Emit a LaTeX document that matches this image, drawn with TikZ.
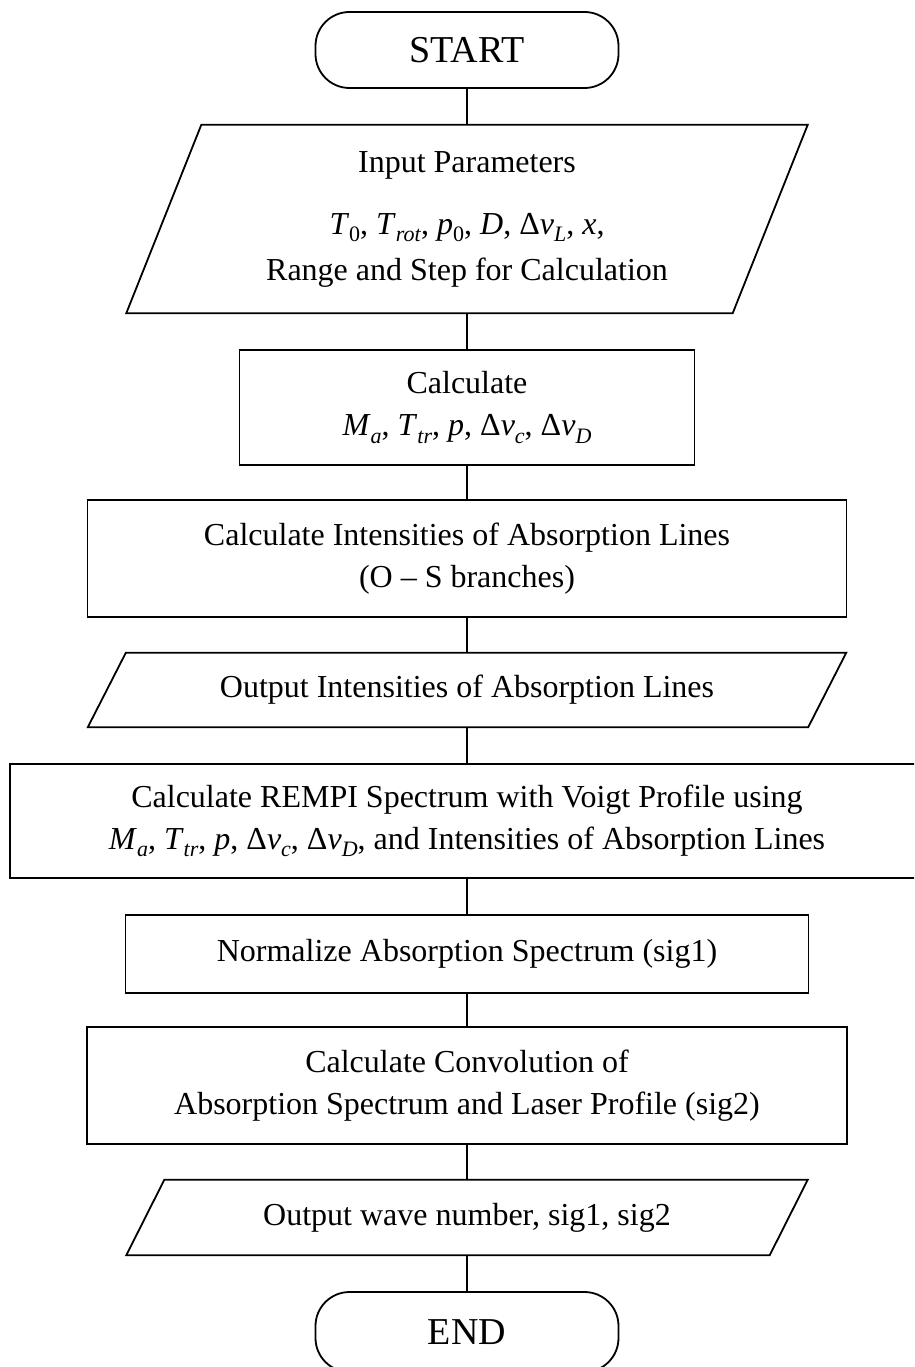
\documentclass[tikz,border=0pt]{standalone}
\usepackage{fontspec}
\setmainfont{Liberation Serif}
\newcommand\sbx[1]{\raisebox{-0.22em}{\fontsize{22}{24}\selectfont #1}}
\newcommand\vi[1]{\textit{#1}}
\begin{document}
\begin{tikzpicture}[x=1pt,y=-1pt,
  txt/.style={font=\fontsize{32}{42}\selectfont, align=center, inner sep=0pt},
  termbox/.style={draw, line width=1.8pt, rounded corners=34pt,
    font=\fontsize{38}{40}\selectfont, minimum width=303pt, minimum height=76pt, inner sep=0pt},
  procbox/.style={txt, draw, line width=1.8pt},
  iobox/.style={txt},
  iopath/.style={line width=1.8pt, line join=miter},
  link/.style={line width=1.6pt}]
\useasboundingbox (0,0) rectangle (914,1367);
\clip (0,0) rectangle (914,1367);

% nodes
\node[termbox] (start) at (467,50) {START};

\node[iobox, minimum width=606pt, minimum height=188pt] (inp) at (467,219)
  {Input Parameters\\[20pt]
   \vi{T}\sbx{0}, \vi{T}\sbx{\vi{rot}}, \vi{p}\sbx{0}, \vi{D}, Δ\vi{ν}\sbx{\vi{L}}, \vi{x},\\[4pt]
   Range and Step for Calculation};
\draw[iopath] ([xshift=37.5pt]inp.north west) -- ([xshift=37.5pt]inp.north east)
  -- ([xshift=-37.5pt]inp.south east) -- ([xshift=-37.5pt]inp.south west) -- cycle;

\node[procbox, minimum width=455pt, minimum height=115pt] (calc) at (467,407.5)
  {Calculate\\
   \vi{M}\sbx{\vi{a}}, \vi{T}\sbx{\vi{tr}}, \vi{p}, Δ\vi{ν}\sbx{\vi{c}}, Δ\vi{ν}\sbx{\vi{D}}};

\node[procbox, minimum width=759pt, minimum height=117pt] (inten) at (467,558.5)
  {Calculate Intensities of Absorption Lines\\(O – S branches)};

\node[iobox, minimum width=720pt, minimum height=74pt] (out1) at (467,690)
  {Output Intensities of Absorption Lines};
\draw[iopath] ([xshift=19pt]out1.north west) -- ([xshift=19pt]out1.north east)
  -- ([xshift=-19pt]out1.south east) -- ([xshift=-19pt]out1.south west) -- cycle;

\node[procbox, minimum width=914pt, minimum height=114pt] (rempi) at (467,821)
  {Calculate REMPI Spectrum with Voigt Profile using\\
   \vi{M}\sbx{\vi{a}}, \vi{T}\sbx{\vi{tr}}, \vi{p}, Δ\vi{ν}\sbx{\vi{c}}, Δ\vi{ν}\sbx{\vi{D}}, and Intensities of Absorption Lines};

\node[procbox, minimum width=683pt, minimum height=78pt] (norm) at (467,954)
  {Normalize Absorption Spectrum (sig1)};

\node[procbox, minimum width=760pt, minimum height=117pt] (conv) at (467,1085.5)
  {Calculate Convolution of\\Absorption Spectrum and Laser Profile (sig2)};

\node[iobox, minimum width=643pt, minimum height=75pt] (out2) at (467,1217.5)
  {Output wave number, sig1, sig2};
\draw[iopath] ([xshift=19pt]out2.north west) -- ([xshift=19pt]out2.north east)
  -- ([xshift=-19pt]out2.south east) -- ([xshift=-19pt]out2.south west) -- cycle;

\node[termbox, minimum height=80pt] (stop) at (467,1332) {END};

% connectors
\draw[link] (start.south) -- (inp.north);
\draw[link] (inp.south) -- (calc.north);
\draw[link] (calc.south) -- (inten.north);
\draw[link] (inten.south) -- (out1.north);
\draw[link] (out1.south) -- (rempi.north);
\draw[link] (rempi.south) -- (norm.north);
\draw[link] (norm.south) -- (conv.north);
\draw[link] (conv.south) -- (out2.north);
\draw[link] (out2.south) -- (stop.north);
\end{tikzpicture}
\end{document}
